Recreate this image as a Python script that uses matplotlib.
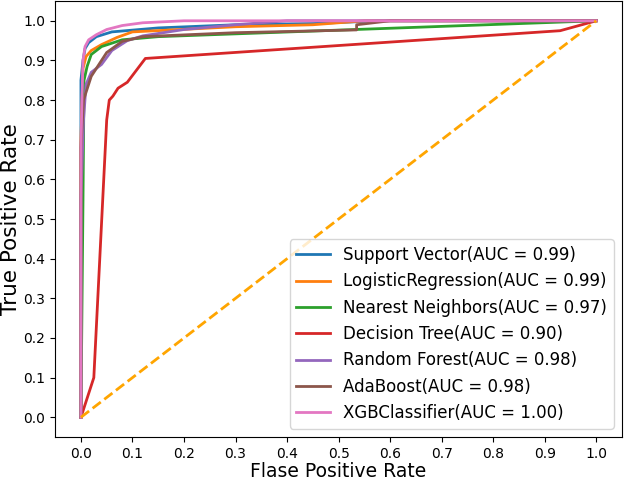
import numpy as np
import matplotlib
matplotlib.use("Agg")
import matplotlib.pyplot as plt

# ROC points (fpr, tpr)
names = ["Support Vector", "LogisticRegression", "Nearest Neighbors",
         "Decision Tree", "Random Forest", "AdaBoost", "XGBClassifier"]
aucs = [0.99, 0.99, 0.97, 0.90, 0.98, 0.98, 1.00]

svc_fpr = [0.0, 0.0, 0.0, 0.004, 0.008, 0.015, 0.03, 0.06, 0.15, 0.30, 0.45, 0.58, 1.0]
svc_tpr = [0.0, 0.80, 0.85, 0.90, 0.93, 0.945, 0.96, 0.972, 0.982, 0.99, 0.993, 1.0, 1.0]

lr_fpr = [0.0, 0.0, 0.004, 0.01, 0.02, 0.04, 0.07, 0.10, 0.30, 0.45, 0.55, 1.0]
lr_tpr = [0.0, 0.70, 0.88, 0.91, 0.925, 0.94, 0.958, 0.972, 0.985, 0.99, 1.0, 1.0]

knn_fpr = [0.0, 0.004, 0.006, 0.012, 0.02, 0.04, 0.08, 0.15, 1.0]
knn_tpr = [0.0, 0.55, 0.85, 0.885, 0.915, 0.935, 0.952, 0.96, 1.0]

dt_fpr = [0.0, 0.025, 0.05, 0.055, 0.062, 0.072, 0.09, 0.125, 0.93, 1.0]
dt_tpr = [0.0, 0.10, 0.75, 0.80, 0.81, 0.83, 0.845, 0.905, 0.975, 1.0]

rf_fpr = [0.0, 0.0, 0.005, 0.01, 0.02, 0.04, 0.06, 0.09, 0.12, 0.20, 0.30, 0.40, 1.0]
rf_tpr = [0.0, 0.55, 0.75, 0.84, 0.87, 0.89, 0.925, 0.95, 0.962, 0.978, 0.99, 1.0, 1.0]

ada_fpr = [0.0, 0.0, 0.005, 0.01, 0.02, 0.035, 0.05, 0.08, 0.12, 0.30, 0.535, 0.535, 0.60, 1.0]
ada_tpr = [0.0, 0.68, 0.80, 0.82, 0.86, 0.89, 0.92, 0.948, 0.96, 0.97, 0.977, 0.99, 1.0, 1.0]

xgb_fpr = [0.0, 0.0, 0.002, 0.004, 0.008, 0.015, 0.03, 0.05, 0.08, 0.12, 0.20, 1.0]
xgb_tpr = [0.0, 0.68, 0.80, 0.90, 0.935, 0.952, 0.965, 0.978, 0.988, 0.995, 1.0, 1.0]

curves = [(svc_fpr, svc_tpr), (lr_fpr, lr_tpr), (knn_fpr, knn_tpr), (dt_fpr, dt_tpr),
          (rf_fpr, rf_tpr), (ada_fpr, ada_tpr), (xgb_fpr, xgb_tpr)]

ticks = np.round(np.arange(0, 1.01, 0.1), 1)

fig = plt.figure(figsize=(6.27, 4.83), dpi=100)
ax = fig.add_axes([0.088, 0.095, 0.904, 0.903])

for (fpr, tpr), name, auc in zip(curves, names, aucs):
    ax.plot(fpr, tpr, lw=2, label=f"{name}(AUC = {auc:.2f})")

ax.plot([0, 1], [0, 1], color="orange", lw=2, linestyle="--")

ax.set_xticks(ticks)
ax.set_yticks(ticks)
ax.tick_params(labelsize=10)
ax.set_xlabel("Flase Positive Rate", fontsize=13.5, labelpad=1)
ax.set_ylabel("True Positive Rate", fontsize=15.5, labelpad=2)
ax.legend(loc="lower right", fontsize=12)

fig.savefig("out.png", dpi=100)
